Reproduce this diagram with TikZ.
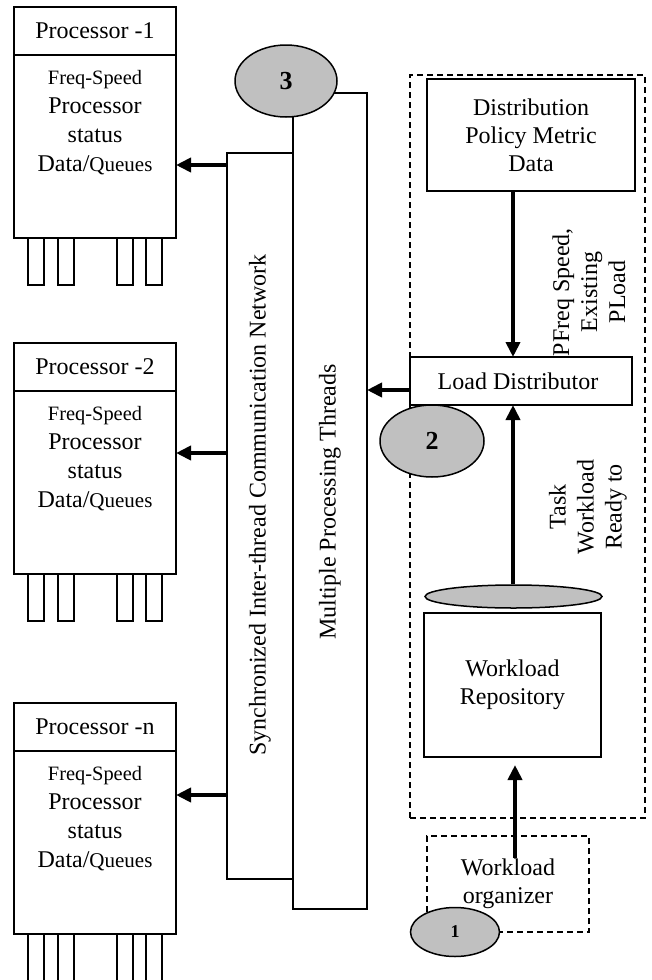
\documentclass[tikz,border=0pt]{standalone}
\usepackage{fontspec}
\setmainfont{Liberation Serif}
\usetikzlibrary{
    arrows.meta,
    positioning,
    shapes.geometric,
    calc
}
\definecolor{badgegray}{RGB}{192,192,192}

\begin{document}
\begin{tikzpicture}[
        x=0.5pt, y=-0.5pt,
        node distance=0pt,
        font=\fontsize{12}{14}\selectfont,
        box/.style={
            draw,
            line width=0.75pt,
            align=center,
            inner sep=2pt,
            outer sep=0pt
        },
        proctitle/.style={
            box,
            minimum width=81pt,
            minimum height=24pt
        },
        procbody/.style={
            box,
            minimum width=81pt,
            minimum height=91.5pt
        },
        pin/.style={
            draw,
            line width=0.75pt,
            fill=white
        },
        dashbox/.style={
            box,
            dash pattern=on 3pt off 2pt
        },
        badge/.style={
            ellipse,
            draw,
            line width=0.75pt,
            fill=badgegray,
            inner sep=0pt,
            font=\fontsize{13}{13}\bfseries\selectfont
        },
        arrow/.style={
            -{Triangle[length=7.5pt,width=7pt]},
            line width=2.4pt
        }
    ]

    \useasboundingbox (0,0) rectangle (652,980);

    \foreach \n/\id/\py/\tap in {1/1/7/165, 2/2/343/453, 3/n/703/795} {
        \node[proctitle] (ptitle\n) at (95,\py+24) {Processor -\id};
        \node[procbody, below=of ptitle\n] (pbody\n) {};
        \node[align=center, inner sep=0pt, font=\fontsize{12}{14.5}\selectfont,
            below=7.5pt of pbody\n.north] (ptext\n) {
            {\fontsize{10.2}{12}\selectfont Freq-Speed}\\
            Processor\\
            status\\
            Data/{\fontsize{10.5}{12}\selectfont Queues}
        };
        \foreach \dx in {14,44,103,132}
            \draw[pin] ($(pbody\n.south west)+(\dx,0)$) rectangle ++(16,47);
        \coordinate (tap\n) at (227,\tap);
        \draw[arrow] (tap\n) -- (tap\n -| pbody\n.east);
    }

    \node[box, minimum width=33pt, minimum height=363pt] (net) at (260,516) {};
    \node[rotate=90] (netlabel) at (260,505) {Synchronized Inter-thread Communication Network};

    \node[box, minimum width=37pt, minimum height=408pt] (threads) at (330,501) {};
    \node[rotate=90] (threadlabel) at (330,502) {Multiple Processing Threads};

    \node[badge, minimum width=51pt, minimum height=36pt] (three) at (286,81) {3};

    \node[dashbox, minimum width=117.5pt, minimum height=371.5pt] (balancer) at (527.5,446.5) {};

    \node[box, minimum width=104pt, minimum height=56pt] (dist) at (531,135) {
        Distribution\\Policy Metric\\Data
    };

    \node[box, minimum width=111pt, minimum height=24pt] (load) at (521,381) {
        Load Distributor
    };

    \node[badge, minimum width=52pt, minimum height=36pt] (two) at (432,441) {2};

    \node[ellipse, draw, fill=badgegray, line width=0.75pt, inner sep=0pt,
        minimum width=88.5pt, minimum height=11.5pt] (disk) at (513.5,596.5) {};

    \node[box, minimum width=88.5pt, minimum height=72pt] (repo) at (512.5,685) {
        Workload\\Repository
    };

    \node[dashbox, minimum width=81pt, minimum height=48pt] (organizer) at (508,884) {
        Workload\\organizer
    };

    \node[badge, minimum width=44.5pt, minimum height=24.5pt,
        font=\fontsize{9}{9}\bfseries\selectfont] (one) at (455,932) {\raisebox{-2.5pt}{1}};

    \node[rotate=90, align=center] (policylabel) at (589,292) {
        PFreq Speed,\\Existing\\PLoad
    };

    \node[rotate=90, align=center] (tasklabel) at (588,507) {
        Task\\Workload\\Ready to
    };

    \coordinate (spine) at (513,0);
    \draw[arrow] (spine |- dist.south) -- (spine |- load.north);
    \draw[arrow] (spine |- disk.north) -- (spine |- load.south);

    \coordinate (lout) at ([yshift=-4.5pt]load.west);
    \draw[arrow] (lout) -- (lout -| threads.east);

    \coordinate (orgin) at (515,858);
    \draw[arrow, shorten >=4pt] (orgin) -- (orgin |- repo.south);

\end{tikzpicture}
\end{document}
